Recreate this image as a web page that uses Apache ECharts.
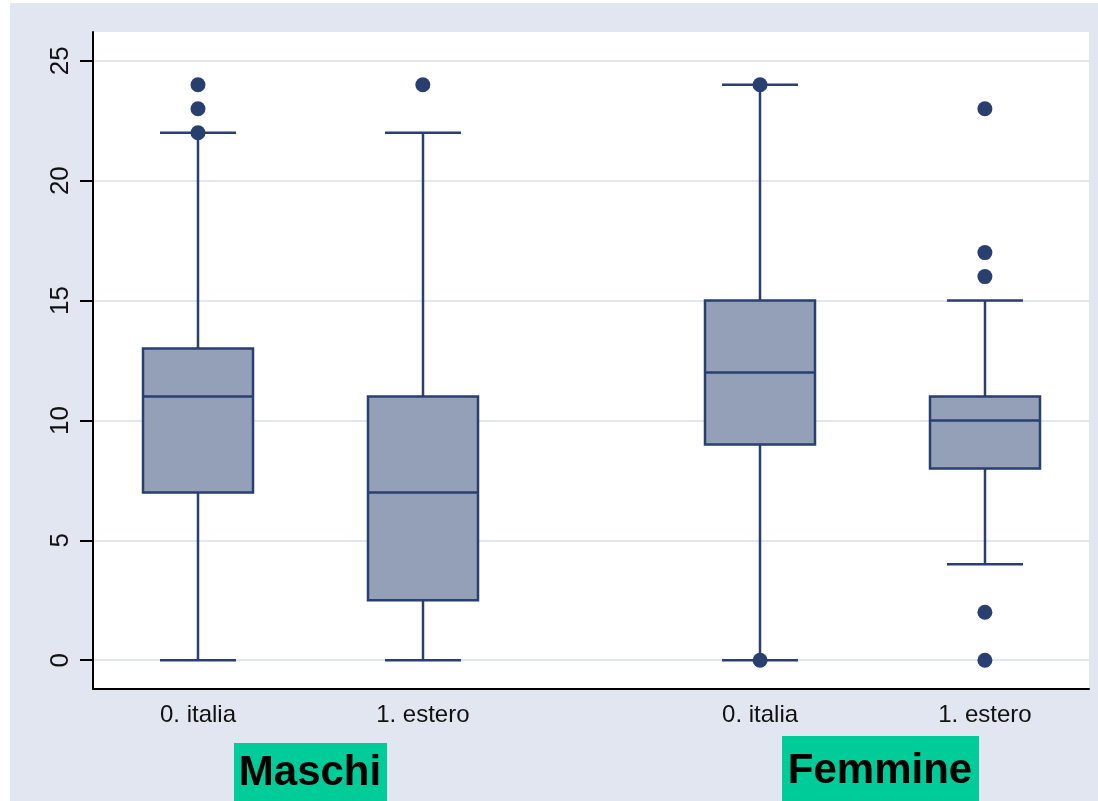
<!DOCTYPE html>
<html>
<head>
<meta charset="utf-8">
<script src="https://cdn.jsdelivr.net/npm/echarts@6/dist/echarts.min.js"></script>
<style>
  html, body { margin: 0; padding: 0; background: #ffffff; }
  #bg { position: absolute; left: 10px; top: 3px; width: 1088px; height: 798px; background: #e1e6f0; }
  #chart { position: absolute; left: 0; top: 0; width: 1098px; height: 801px; }
</style>
</head>
<body>
<div id="bg"></div>
<div id="chart"></div>
<script>
// Box summaries per group (Maschi: italia, estero; Femmine: italia, estero)
const groupLabels   = ['0. italia', '1. estero', '0. italia', '1. estero'];
const groupPositions = [0, 1, 2.5, 3.5];
const whiskerLow  = [0, 0, 0, 4];
const quartile1   = [7, 2.5, 9, 8];
const medians     = [11, 7, 12, 10];
const quartile3   = [13, 11, 15, 11];
const whiskerHigh = [22, 22, 24, 15];

// Outside values: group index and value
const outlierGroup  = [0, 0, 0, 1, 2, 2, 3, 3, 3, 3, 3];
const outlierValues = [24, 23, 22, 24, 24, 0, 23, 17, 16, 2, 0];

const yTicks = [0, 5, 10, 15, 20, 25];

const NAVY = '#293f6f';
const BOX_FILL = '#94a0b8';
const BOX_HALF = 55;   // px
const CAP_HALF = 38;   // px
const LW = 2.5;

const boxData = groupPositions.map((p, i) =>
  [p, whiskerLow[i], quartile1[i], medians[i], quartile3[i], whiskerHigh[i]]);
const outlierData = outlierGroup.map((g, i) => [groupPositions[g], outlierValues[i]]);

function renderBox(params, api) {
  const x = api.value(0);
  const low = api.coord([x, api.value(1)]);
  const q1 = api.coord([x, api.value(2)]);
  const med = api.coord([x, api.value(3)]);
  const q3 = api.coord([x, api.value(4)]);
  const high = api.coord([x, api.value(5)]);
  const cx = Math.round(low[0]);
  const line = { stroke: NAVY, lineWidth: LW, fill: null };
  return {
    type: 'group',
    children: [
      { type: 'line', shape: { x1: cx, y1: q1[1], x2: cx, y2: low[1] }, style: line },
      { type: 'line', shape: { x1: cx, y1: q3[1], x2: cx, y2: high[1] }, style: line },
      { type: 'line', shape: { x1: cx - CAP_HALF, y1: low[1], x2: cx + CAP_HALF, y2: low[1] }, style: line },
      { type: 'line', shape: { x1: cx - CAP_HALF, y1: high[1], x2: cx + CAP_HALF, y2: high[1] }, style: line },
      { type: 'rect', shape: { x: cx - BOX_HALF, y: q3[1], width: BOX_HALF * 2, height: q1[1] - q3[1] },
        style: { fill: BOX_FILL, stroke: NAVY, lineWidth: LW } },
      { type: 'line', shape: { x1: cx - BOX_HALF, y1: med[1], x2: cx + BOX_HALF, y2: med[1] }, style: line }
    ]
  };
}

const chart = echarts.init(document.getElementById('chart'));
const FONT = '"Liberation Sans", Arial, sans-serif';

chart.setOption({
  backgroundColor: 'transparent',
  animation: false,
  grid: {
    left: 93, top: 32, right: 9, bottom: 112,
    show: true, backgroundColor: '#ffffff', borderWidth: 0
  },
  xAxis: {
    type: 'value',
    min: -0.467, max: 3.963,
    axisLine: { show: true, onZero: false, lineStyle: { color: '#000', width: 2 } },
    axisTick: { show: false },
    splitLine: { show: false },
    axisLabel: {
      customValues: groupPositions,
      formatter: v => groupLabels[groupPositions.indexOf(v)],
      color: '#111', fontFamily: FONT, fontSize: 24, margin: 14
    }
  },
  yAxis: {
    type: 'value',
    min: -1.2, max: 26.2,
    axisLine: { show: true, onZero: false, lineStyle: { color: '#000', width: 2 } },
    axisTick: { show: true, customValues: yTicks, length: 13, lineStyle: { color: '#000', width: 2 } },
    axisLabel: {
      customValues: yTicks, rotate: 90, margin: 19,
      color: '#111', fontFamily: FONT, fontSize: 26
    },
    splitLine: { show: true, lineStyle: { color: '#e1e6f0', width: 2 } }
  },
  graphic: [
    { type: 'rect', left: 234, top: 743, shape: { width: 153, height: 60 }, style: { fill: '#00cc99' }, z: 10 },
    { type: 'text', x: 310, y: 773, style: { text: 'Maschi', font: 'bold 42px ' + FONT, fill: '#000', align: 'center', verticalAlign: 'middle' }, z: 11 },
    { type: 'rect', left: 782, top: 736, shape: { width: 197, height: 67 }, style: { fill: '#00cc99' }, z: 10 },
    { type: 'text', x: 880, y: 771, style: { text: 'Femmine', font: 'bold 42px ' + FONT, fill: '#000', align: 'center', verticalAlign: 'middle' }, z: 11 }
  ],
  series: [
    {
      type: 'custom',
      renderItem: renderBox,
      data: boxData,
      encode: { x: 0, y: [1, 2, 3, 4, 5] },
      z: 2
    },
    {
      type: 'scatter',
      data: outlierData,
      symbol: 'circle',
      symbolSize: 15,
      itemStyle: { color: NAVY, opacity: 1 },
      z: 3
    }
  ]
});
</script>
</body>
</html>
